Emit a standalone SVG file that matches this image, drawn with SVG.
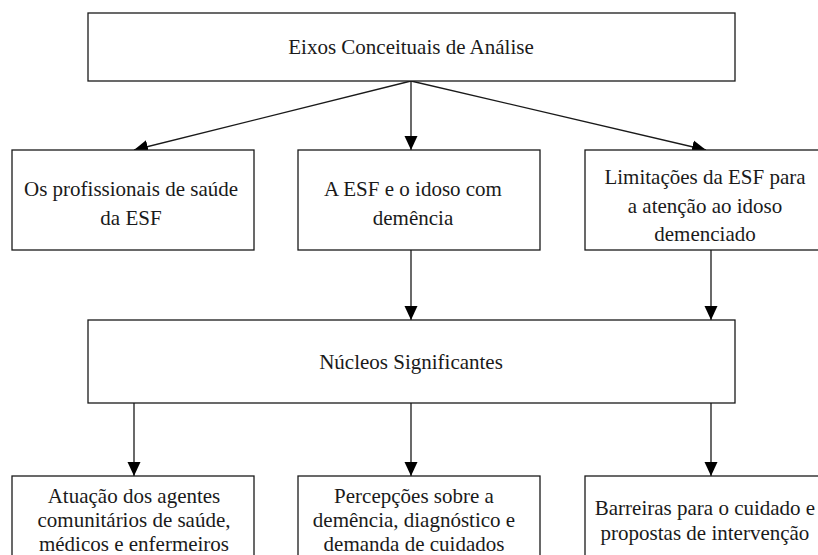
<svg xmlns="http://www.w3.org/2000/svg" width="818" height="555" viewBox="0 0 818 555">
<style>
.box{fill:#fff;stroke:#1a1a1a;stroke-width:1.3}
.t{font-family:'Liberation Serif','Times New Roman','DejaVu Serif',serif;font-size:21px;fill:#1a1a1a;text-anchor:middle}
.c{stroke:#1a1a1a;stroke-width:1.3;fill:none}
</style>
<defs>
<marker id="ah" markerUnits="userSpaceOnUse" markerWidth="14" markerHeight="14" viewBox="0 0 14 14" refX="14" refY="7" orient="auto">
<path d="M0,0.5 L14,7 L0,13.5 Z" fill="#000"/>
</marker>
</defs>
<rect width="818" height="555" fill="#fff"/>
<g id="connectors">
<line class="c" x1="411" y1="81" x2="134" y2="150" marker-end="url(#ah)"/>
<line class="c" x1="411" y1="81" x2="411" y2="150" marker-end="url(#ah)"/>
<line class="c" x1="411" y1="81" x2="706" y2="150" marker-end="url(#ah)"/>
<line class="c" x1="411" y1="250" x2="411" y2="320" marker-end="url(#ah)"/>
<line class="c" x1="711" y1="250" x2="711" y2="320" marker-end="url(#ah)"/>
<line class="c" x1="134" y1="403" x2="134" y2="476" marker-end="url(#ah)"/>
<line class="c" x1="411" y1="403" x2="411" y2="476" marker-end="url(#ah)"/>
<line class="c" x1="711" y1="403" x2="711" y2="476" marker-end="url(#ah)"/>
</g>
<g id="eixos">
<rect class="box" x="88" y="13" width="647" height="68"/>
<text class="t" x="411" y="54" font-family="Liberation Serif, serif">Eixos Conceituais de Análise</text>
</g>
<g id="profissionais">
<rect class="box" x="12" y="150" width="242" height="100"/>
<text class="t" x="131" y="196">Os profissionais de saúde</text>
<text class="t" x="131" y="225">da ESF</text>
</g>
<g id="esf-idoso">
<rect class="box" x="298" y="150" width="242" height="100"/>
<text class="t" x="413" y="196">A ESF e o idoso com</text>
<text class="t" x="413" y="225">demência</text>
</g>
<g id="limitacoes">
<rect class="box" x="585" y="150" width="242" height="100"/>
<text class="t" x="705" y="184">Limitações da ESF para</text>
<text class="t" x="705" y="213">a atenção ao idoso</text>
<text class="t" x="705" y="241">demenciado</text>
</g>
<g id="nucleos">
<rect class="box" x="88" y="320" width="647" height="83"/>
<text class="t" x="411" y="369">Núcleos Significantes</text>
</g>
<g id="atuacao">
<rect class="box" x="12" y="476" width="242" height="100"/>
<text class="t" x="134" y="503">Atuação dos agentes</text>
<text class="t" x="134" y="527">comunitários de saúde,</text>
<text class="t" x="134" y="551">médicos e enfermeiros</text>
</g>
<g id="percepcoes">
<rect class="box" x="298" y="476" width="242" height="100"/>
<text class="t" x="414" y="503">Percepções sobre a</text>
<text class="t" x="414" y="527">demência, diagnóstico e</text>
<text class="t" x="414" y="551">demanda de cuidados</text>
</g>
<g id="barreiras">
<rect class="box" x="585" y="476" width="242" height="100"/>
<text class="t" x="705" y="515">Barreiras para o cuidado e</text>
<text class="t" x="705" y="540">propostas de intervenção</text>
</g>
</svg>
